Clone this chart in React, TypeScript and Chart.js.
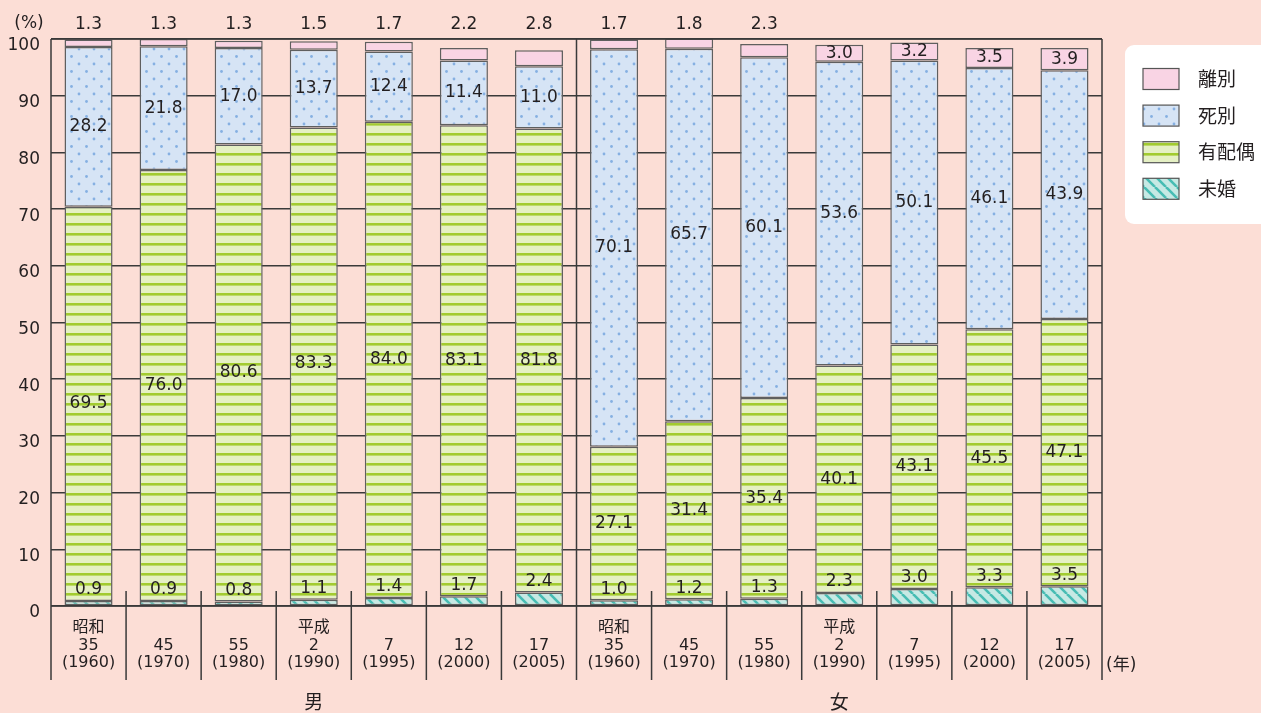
import React, { useEffect, useRef } from 'react';
import { Chart, registerables } from 'chart.js';

Chart.register(...registerables);

const categories: string[][] = [
  ['昭和', '35', '(1960)'],
  ['', '45', '(1970)'],
  ['', '55', '(1980)'],
  ['平成', '2', '(1990)'],
  ['', '7', '(1995)'],
  ['', '12', '(2000)'],
  ['', '17', '(2005)'],
  ['昭和', '35', '(1960)'],
  ['', '45', '(1970)'],
  ['', '55', '(1980)'],
  ['平成', '2', '(1990)'],
  ['', '7', '(1995)'],
  ['', '12', '(2000)'],
  ['', '17', '(2005)'],
];

const seriesNames = ['未婚', '有配偶', '死別', '離別'];
const unmarried = [0.9, 0.9, 0.8, 1.1, 1.4, 1.7, 2.4, 1.0, 1.2, 1.3, 2.3, 3.0, 3.3, 3.5];
const married = [69.5, 76.0, 80.6, 83.3, 84.0, 83.1, 81.8, 27.1, 31.4, 35.4, 40.1, 43.1, 45.5, 47.1];
const widowed = [28.2, 21.8, 17.0, 13.7, 12.4, 11.4, 11.0, 70.1, 65.7, 60.1, 53.6, 50.1, 46.1, 43.9];
const divorced = [1.3, 1.3, 1.3, 1.5, 1.7, 2.2, 2.8, 1.7, 1.8, 2.3, 3.0, 3.2, 3.5, 3.9];
const groups = ['男', '女'];
const groupSize = 7;
const yUnit = '(%)';
const xUnit = '(年)';

const FONT = '"DejaVu Sans", "Noto Sans CJK JP", sans-serif';
const CJK = '"Noto Sans CJK JP", sans-serif';
const TEXT = '#231f20';
const LINE = '#3a3a3a';
const BG = '#fcded6';

function makeDots(): CanvasPattern | string {
  const c = document.createElement('canvas');
  c.width = 15; c.height = 15;
  const g = c.getContext('2d');
  if (!g) return '#d5e3f4';
  g.fillStyle = '#d6e4f5';
  g.fillRect(0, 0, 15, 15);
  g.fillStyle = '#86b0e2';
  [[4, 4], [11.5, 11.5]].forEach(([x, y]) => {
    g.beginPath(); g.arc(x, y, 1.4, 0, Math.PI * 2); g.fill();
  });
  return g.createPattern(c, 'repeat') || '#d5e3f4';
}

function makeStripes(): CanvasPattern | string {
  const c = document.createElement('canvas');
  c.width = 10; c.height = 10;
  const g = c.getContext('2d');
  if (!g) return '#e4efc1';
  g.fillStyle = '#e5f0c4';
  g.fillRect(0, 0, 10, 10);
  g.fillStyle = '#a2cb30';
  g.fillRect(0, 3, 10, 2.6);
  return g.createPattern(c, 'repeat') || '#e4efc1';
}

function makeHatch(): CanvasPattern | string {
  const s = 11;
  const c = document.createElement('canvas');
  c.width = s; c.height = s;
  const g = c.getContext('2d');
  if (!g) return '#c5e8e3';
  g.fillStyle = '#c6e9e4';
  g.fillRect(0, 0, s, s);
  g.strokeStyle = '#47bcb3';
  g.lineWidth = 2.6;
  for (const x0 of [-s, 0, s]) {
    g.beginPath(); g.moveTo(x0, 0); g.lineTo(x0 + s, s); g.stroke();
  }
  return g.createPattern(c, 'repeat') || '#c5e8e3';
}

export default function App() {
  const ref = useRef<HTMLCanvasElement | null>(null);

  useEffect(() => {
    if (!ref.current) return;
    const fills = [makeHatch(), makeStripes(), makeDots(), '#f9d4e4'];
    const values = [unmarried, married, widowed, divorced];

    const framePlugin = {
      id: 'frame',
      afterDatasetsDraw(chart: any) {
        const ctx = chart.ctx;
        const a = chart.chartArea;
        const xs = chart.scales.x;
        const n = categories.length;
        const cw = (a.right - a.left) / n;
        const below = a.bottom + 74;
        ctx.save();
        ctx.strokeStyle = LINE;
        ctx.lineWidth = 1.5;
        ctx.beginPath();
        ctx.moveTo(a.left, a.top); ctx.lineTo(a.right, a.top);
        ctx.moveTo(a.left, a.bottom); ctx.lineTo(a.right, a.bottom);
        ctx.moveTo(a.left, a.top); ctx.lineTo(a.left, below);
        ctx.moveTo(a.right, a.top); ctx.lineTo(a.right, below);
        for (let i = 1; i < n; i++) {
          const bx = xs.getPixelForValue(i) - cw / 2;
          if (i % groupSize === 0) {
            ctx.moveTo(bx, a.top); ctx.lineTo(bx, below);
          } else {
            ctx.moveTo(bx, a.bottom - 15); ctx.lineTo(bx, below);
          }
        }
        ctx.stroke();

        // data labels
        ctx.fillStyle = TEXT;
        ctx.font = `17px ${FONT}`;
        ctx.textAlign = 'center';
        ctx.textBaseline = 'middle';
        chart.data.datasets.forEach((ds: any, di: number) => {
          const meta = chart.getDatasetMeta(di);
          meta.data.forEach((bar: any, i: number) => {
            const v = ds.data[i] as number;
            const p = bar.getProps(['x', 'y', 'base'], true);
            let ty: number;
            if (di === 0) ty = p.y - 11;
            else if (di === 3 && v < 3) ty = a.top - 14;
            else ty = (p.y + p.base) / 2;
            ctx.fillText(v.toFixed(1), p.x, ty);
          });
        });

        // units and group labels
        ctx.font = `17px ${FONT}`;
        ctx.textAlign = 'center';
        ctx.fillText(yUnit, 29, 24);
        ctx.textAlign = 'left';
        ctx.font = `17px ${FONT}`;
        ctx.fillText(xUnit, a.right + 4, 666);
        ctx.font = `19px ${CJK}`;
        ctx.textAlign = 'center';
        groups.forEach((gname, gi) => {
          const x0 = xs.getPixelForValue(gi * groupSize) - cw / 2;
          const cx = x0 + (cw * groupSize) / 2;
          ctx.fillText(gname, cx, 702);
        });
        ctx.restore();
      },
      afterDraw(chart: any) {
        const ctx = chart.ctx;
        ctx.save();
        // legend box
        const bx = 1125, by = 45, bw = 160, bh = 179, r = 9;
        ctx.fillStyle = '#ffffff';
        ctx.beginPath();
        ctx.moveTo(bx + r, by);
        ctx.lineTo(bx + bw - r, by);
        ctx.arcTo(bx + bw, by, bx + bw, by + r, r);
        ctx.lineTo(bx + bw, by + bh - r);
        ctx.arcTo(bx + bw, by + bh, bx + bw - r, by + bh, r);
        ctx.lineTo(bx + r, by + bh);
        ctx.arcTo(bx, by + bh, bx, by + bh - r, r);
        ctx.lineTo(bx, by + r);
        ctx.arcTo(bx, by, bx + r, by, r);
        ctx.closePath();
        ctx.fill();
        const dsets = chart.data.datasets;
        ctx.font = `19px ${CJK}`;
        ctx.textBaseline = 'middle';
        ctx.textAlign = 'left';
        for (let k = 0; k < dsets.length; k++) {
          const ds = dsets[dsets.length - 1 - k];
          const cy = 79 + k * 36.6;
          ctx.fillStyle = ds.backgroundColor;
          ctx.fillRect(1143, cy - 10.5, 36, 21);
          ctx.strokeStyle = '#555';
          ctx.lineWidth = 1.2;
          ctx.strokeRect(1143, cy - 10.5, 36, 21);
          ctx.fillStyle = TEXT;
          ctx.fillText(ds.label, 1198, cy);
        }
        ctx.restore();
      },
    };

    const chart = new Chart(ref.current, {
      type: 'bar',
      data: {
        labels: categories,
        datasets: seriesNames.map((name, i) => ({
          label: name,
          data: values[i],
          backgroundColor: fills[i] as any,
          borderColor: '#5f5f5f',
          borderWidth: 1.5,
          borderSkipped: false,
          categoryPercentage: 0.8,
          barPercentage: 0.8,
        })),
      },
      options: {
        responsive: false,
        animation: false,
        devicePixelRatio: 1,
        layout: { padding: { top: 39, right: 159, left: 0, bottom: 0 } },
        plugins: {
          legend: { display: false },
          tooltip: { enabled: false },
          title: { display: false },
        },
        scales: {
          x: {
            stacked: true,
            grid: { display: false, drawTicks: false },
            border: { display: false },
            ticks: {
              autoSkip: false,
              maxRotation: 0,
              padding: 13,
              color: TEXT,
              font: { family: FONT, size: 16, lineHeight: 1.1 },
            },
            afterFit: (s: any) => { s.height = 107; },
          },
          y: {
            stacked: true,
            min: 0,
            max: 100,
            grid: { color: LINE, lineWidth: 1.5, drawTicks: false },
            border: { display: false },
            ticks: {
              stepSize: 10,
              padding: 11,
              labelOffset: 7,
              color: TEXT,
              font: { family: FONT, size: 17 },
            },
            afterFit: (s: any) => { s.width = 51; },
          },
        },
      },
      plugins: [framePlugin],
    });
    return () => chart.destroy();
  }, []);

  return (
    <div style={{ position: 'fixed', left: 0, top: 0, width: 1261, height: 713, background: BG }}>
      <canvas ref={ref} width={1261} height={713} style={{ display: 'block' }} />
    </div>
  );
}
